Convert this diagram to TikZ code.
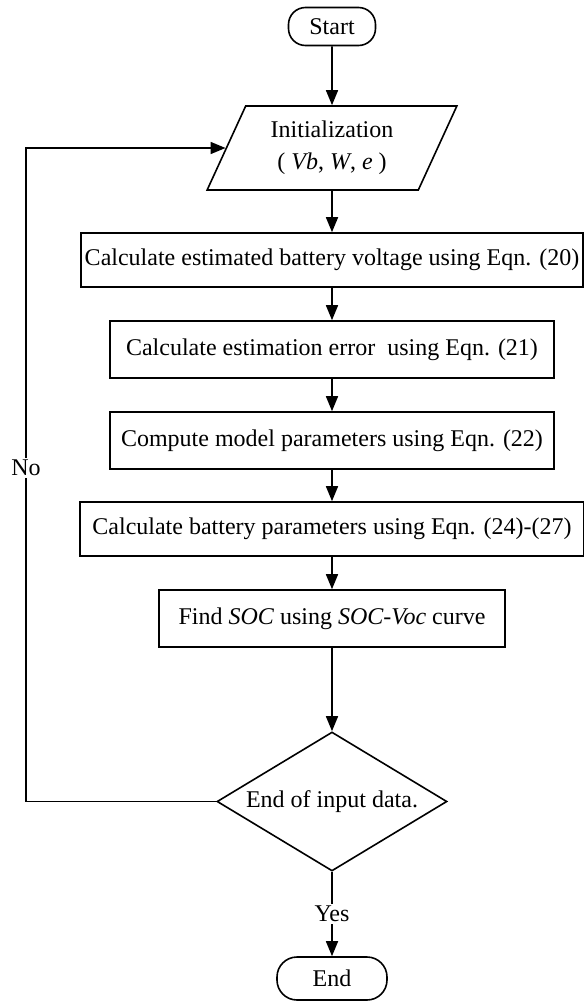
\documentclass[tikz,border=0pt]{standalone}
\usepackage{fontspec}
\setmainfont{Liberation Serif}
\usetikzlibrary{shapes.geometric,arrows.meta}

\tikzset{
  proc/.style={draw, line width=1.6pt, rectangle, minimum height=55, inner sep=0pt},
  term/.style={draw, line width=1.6pt, rectangle, rounded corners=17, minimum height=38, inner sep=0pt},
  inout/.style={draw, line width=1.6pt, trapezium, trapezium left angle=63, trapezium right angle=117, trapezium stretches=true, minimum width=250, minimum height=84, inner sep=0pt, align=center},
  decision/.style={draw, line width=1.6pt, diamond, minimum width=230, minimum height=139, inner sep=0pt},
  flow/.style={line width=1.6pt, -{Triangle[length=15pt,width=12pt]}},
}

\begin{document}
\begin{tikzpicture}[x=1pt, y=-1pt, every node/.style={font=\fontsize{24}{32}\selectfont}]
\useasboundingbox (0,0) rectangle (584,1002);

\node[term, minimum width=87] (start) at (332,26.5) {Start};
\node[inout] (init) at (332,148) {Initialization\\( \textit{Vb}, \textit{W}, \textit{e} )};
\node[proc, minimum width=502, minimum height=54] (est) at (332,260) {Calculate estimated battery voltage using Eqn. (20)};
\node[proc, minimum width=444, minimum height=57] (err) at (332,349.5) {Calculate estimation error~ using Eqn. (21)};
\node[proc, minimum width=444, minimum height=57] (model) at (332,440.5) {Compute model parameters using Eqn. (22)};
\node[proc, minimum width=504, minimum height=54] (batt) at (332,529) {Calculate battery parameters using Eqn. (24)-(27)};
\node[proc, minimum width=346, minimum height=57] (soc) at (332,618.5) {Find \textit{SOC} using \textit{SOC-Voc} curve};
\node[decision, label={center:End of input data.}] (dec) at (332,801.5) {};
\node[term, minimum width=110, minimum height=43, rounded corners=20] (stop) at (332,978.5) {End};

\coordinate (corner) at (26,801.5);

\draw[flow] (start) -- (init);
\draw[flow] (init) -- (est);
\draw[flow] (est) -- (err);
\draw[flow] (err) -- (model);
\draw[flow] (model) -- (batt);
\draw[flow] (batt) -- (soc);
\draw[flow] (soc) -- (dec);
\draw[flow] (dec) -- node[fill=white, inner sep=2pt] (yes) {Yes} (stop);
\draw[flow] (dec.west) -- (corner) |- node[pos=0.255, fill=white, inner sep=2pt] (no) {No} (init.west);
\end{tikzpicture}
\end{document}
